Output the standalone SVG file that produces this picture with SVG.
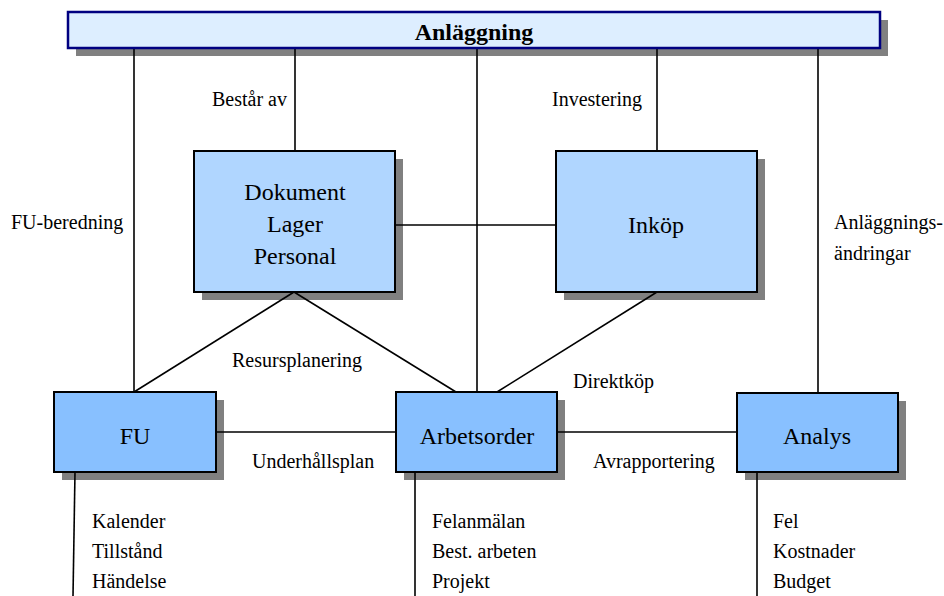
<svg xmlns="http://www.w3.org/2000/svg" width="944" height="596" viewBox="0 0 944 596">
  <style>
    .shadow { fill: #808080; }
    .box { stroke: #000000; stroke-width: 2; }
    .top { fill: #B0D6FF; }
    .low { fill: #88C0FF; }
    .bar { fill: #DDEEFF; stroke: #000080; stroke-width: 2.5; }
    .wire { stroke: #000000; stroke-width: 1.6; fill: none; }
    .lbl { font-family: "Liberation Serif", "Times New Roman", serif; font-size: 20px; fill: #000000; }
    .name { font-family: "Liberation Serif", "Times New Roman", serif; font-size: 24px; fill: #000000; text-anchor: middle; }
    .title { font-family: "Liberation Serif", "Times New Roman", serif; font-size: 24px; font-weight: bold; fill: #000000; text-anchor: middle; }
  </style>

  <!-- drop shadows -->
  <g id="shadows">
    <rect class="shadow" x="76" y="20" width="812" height="36"/>
    <rect class="shadow" x="202" y="159" width="201" height="141"/>
    <rect class="shadow" x="564" y="159" width="201" height="141"/>
    <rect class="shadow" x="62" y="400" width="162" height="80"/>
    <rect class="shadow" x="404" y="400" width="161" height="80"/>
    <rect class="shadow" x="745" y="401" width="161" height="79"/>
  </g>

  <!-- connectors -->
  <g id="connectors">
    <line class="wire" x1="134" y1="48" x2="134" y2="392"/>
    <line class="wire" x1="295" y1="48" x2="295" y2="151"/>
    <line class="wire" x1="477" y1="48" x2="477" y2="392"/>
    <line class="wire" x1="657" y1="48" x2="657" y2="151"/>
    <line class="wire" x1="818" y1="48" x2="818" y2="392"/>
    <line class="wire" x1="395" y1="225" x2="556" y2="225"/>
    <line class="wire" x1="294" y1="292" x2="134" y2="392"/>
    <line class="wire" x1="294" y1="292" x2="456" y2="392"/>
    <line class="wire" x1="657" y1="292" x2="497" y2="392"/>
    <line class="wire" x1="216" y1="432" x2="396" y2="432"/>
    <line class="wire" x1="557" y1="432" x2="737" y2="432"/>
    <line class="wire" x1="75" y1="472" x2="73" y2="596"/>
    <line class="wire" x1="415" y1="472" x2="415" y2="596"/>
    <line class="wire" x1="757" y1="472" x2="757" y2="596"/>
  </g>

  <g id="anlaggning">
    <rect class="bar" x="68" y="12" width="812" height="36"/>
    <text class="title" x="474" y="40">Anläggning</text>
  </g>

  <g id="dokument">
    <rect class="box top" x="194" y="151" width="201" height="141"/>
    <text class="name" x="295" y="200">Dokument</text>
    <text class="name" x="295" y="232">Lager</text>
    <text class="name" x="295" y="264">Personal</text>
  </g>

  <g id="inkop">
    <rect class="box top" x="556" y="151" width="201" height="141"/>
    <text class="name" x="656" y="233">Inköp</text>
  </g>

  <g id="fu">
    <rect class="box low" x="54" y="392" width="162" height="80"/>
    <text class="name" x="135" y="444">FU</text>
  </g>

  <g id="arbetsorder">
    <rect class="box low" x="396" y="392" width="161" height="80"/>
    <text class="name" x="477" y="444">Arbetsorder</text>
  </g>

  <g id="analys">
    <rect class="box low" x="737" y="393" width="161" height="79"/>
    <text class="name" x="817" y="444">Analys</text>
  </g>

  <!-- connector labels -->
  <g id="labels">
    <text class="lbl" x="212" y="106">Består av</text>
    <text class="lbl" x="552" y="106">Investering</text>
    <text class="lbl" x="11" y="229">FU-beredning</text>
    <text class="lbl" x="834" y="229">Anläggnings-</text>
    <text class="lbl" x="834" y="260">ändringar</text>
    <text class="lbl" x="232" y="367">Resursplanering</text>
    <text class="lbl" x="573" y="388">Direktköp</text>
    <text class="lbl" x="252" y="468">Underhållsplan</text>
    <text class="lbl" x="593" y="468">Avrapportering</text>
    <text class="lbl" x="92" y="528">Kalender</text>
    <text class="lbl" x="92" y="558">Tillstånd</text>
    <text class="lbl" x="92" y="588">Händelse</text>
    <text class="lbl" x="432" y="528">Felanmälan</text>
    <text class="lbl" x="432" y="558">Best. arbeten</text>
    <text class="lbl" x="432" y="588">Projekt</text>
    <text class="lbl" x="773" y="528">Fel</text>
    <text class="lbl" x="773" y="558">Kostnader</text>
    <text class="lbl" x="773" y="588">Budget</text>
  </g>
</svg>
